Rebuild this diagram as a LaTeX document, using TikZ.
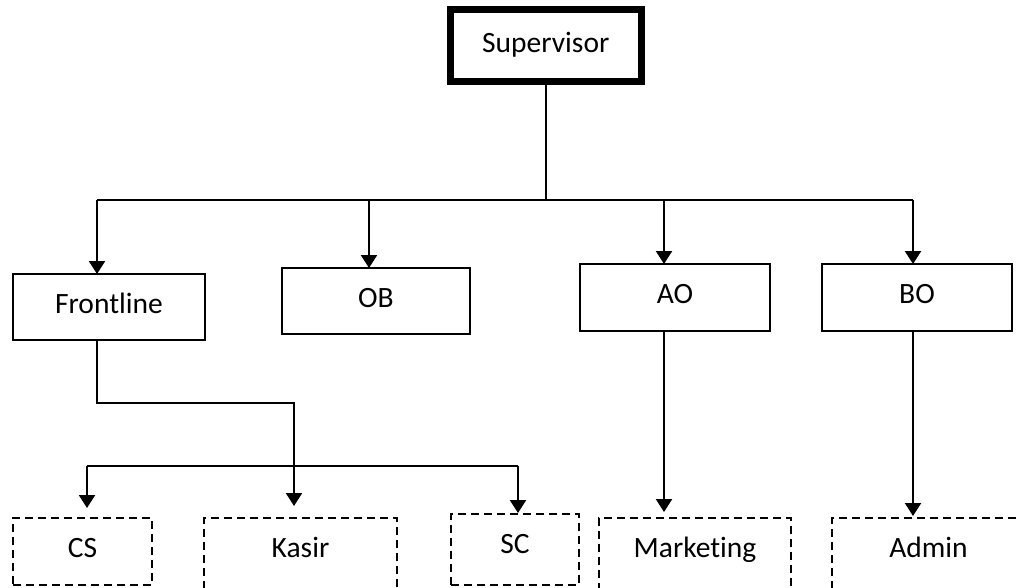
\documentclass[tikz,border=0pt]{standalone}
\usepackage{fontspec}
\setmainfont[Ligatures={NoCommon,TeX}]{Carlito}
\usetikzlibrary{arrows.meta}
\tikzset{
  base/.style={draw, inner sep=0pt, outer sep=0pt, anchor=north west, align=center,
    font=\fontsize{29.5}{35}\selectfont, text height=39pt},
  solidbox/.style={base, line width=2.3pt},
  topbox/.style={base, line width=7pt},
  dashbox/.style={base, line width=2.3pt, dash pattern=on 8pt off 5pt},
  conn/.style={line width=2.3pt},
  arr/.style={line width=2.3pt, -{Triangle[width=16pt,length=13pt]}}
}
\begin{document}
\begin{tikzpicture}[x=1pt,y=-1pt]
\useasboundingbox (0,0) rectangle (1017,588);
\clip (0,0) rectangle (1017,588);
\fill[white] (0,0) rectangle (1017,588);
% nodes
\node[topbox, minimum width=191.5pt, text height=43pt, text depth=28.5pt] (sup) at (450,10) {Supervisor};
\node[solidbox, minimum width=192pt, text depth=27pt] (fl) at (13,274) {Frontline};
\node[solidbox, minimum width=188pt, text depth=27pt] (ob) at (282,268) {OB};
\node[solidbox, minimum width=190pt, text depth=28pt] (ao) at (580,264) {AO};
\node[solidbox, minimum width=190pt, text depth=28pt] (bo) at (822,264) {BO};
\node[dashbox, minimum width=139pt, text depth=28pt] (cs) at (13,518) {CS};
\node[dashbox, minimum width=193pt, text depth=45pt] (ks) at (204,518) {Kasir};
\node[dashbox, minimum width=128pt, text depth=32pt] (sc) at (451,514) {SC};
\node[dashbox, minimum width=192pt, text depth=45pt] (mk) at (599,518) {Marketing};
\node[dashbox, minimum width=193pt, text depth=45pt] (ad) at (832,518) {Admin};
% coordinates
\coordinate (hub) at (546,200);
\coordinate (b1) at (97,200);
\coordinate (b2) at (369,200);
\coordinate (b3) at (664,200);
\coordinate (b4) at (913,200);
\coordinate (f1) at (97,403);
\coordinate (f2) at (294,403);
\coordinate (c1) at (87,466);
\coordinate (c3) at (518,466);
% top connectors
\draw[conn] (sup.south) -- (sup.south |- hub);
\draw[conn] (b1) -- (b4);
\draw[arr] (b1) -- (b1 |- fl.north);
\draw[arr] (b2) -- (b2 |- ob.north);
\draw[arr] (b3) -- (b3 |- ao.north);
\draw[arr] (b4) -- (b4 |- bo.north);
% frontline branch
\draw[arr, shorten >=12pt] (f1 |- fl.south) -- (f1) -- (f2) -- (f2 |- ks.north);
\draw[conn] (c1) -- (c3);
\draw[arr, shorten >=10pt] (c1) -- (c1 |- cs.north);
\draw[arr, shorten >=1pt] (c3) -- (c3 |- sc.north);
% AO and BO branches
\draw[arr, shorten >=6pt] (b3 |- ao.south) -- (b3 |- mk.north);
\draw[arr, shorten >=2pt] (b4 |- bo.south) -- (b4 |- ad.north);
\end{tikzpicture}
\end{document}
